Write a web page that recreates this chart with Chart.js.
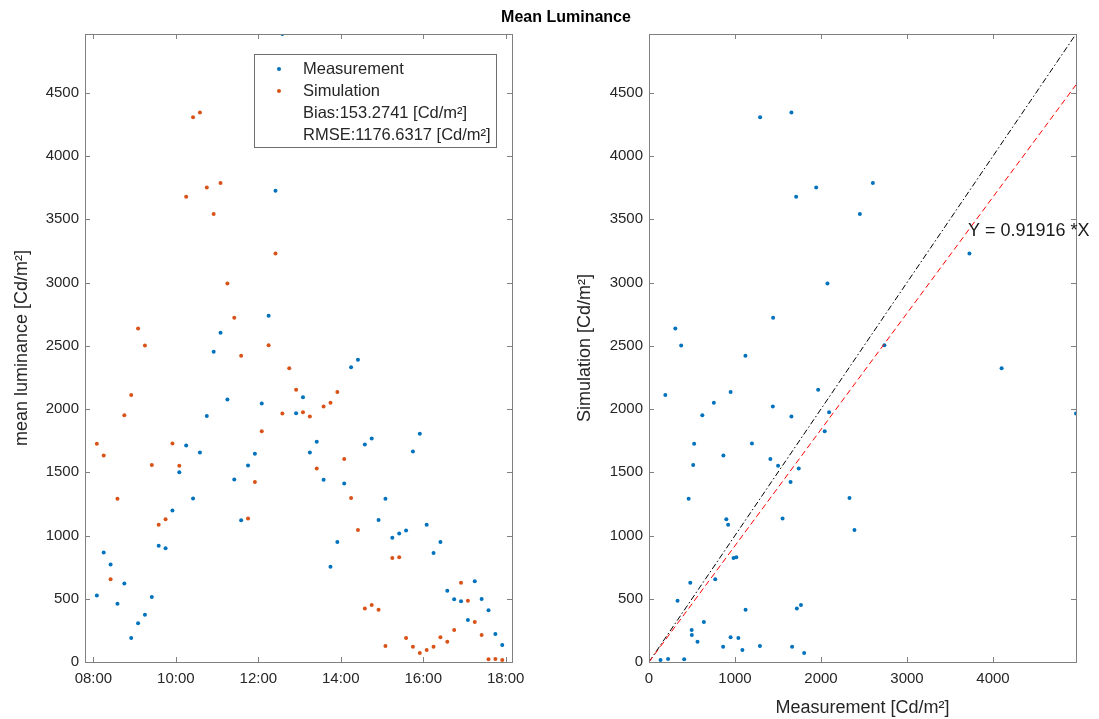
<!DOCTYPE html>
<html>
<head>
<meta charset="utf-8">
<title>Mean Luminance</title>
<script src="https://cdn.jsdelivr.net/npm/chart.js@4.4.0/dist/chart.umd.min.js"></script>
<style>
  body { margin: 0; background: #fff; }
  #wrap { position: relative; width: 1099px; height: 719px; }
  canvas { position: absolute; left: 0; top: 0; }
</style>
</head>
<body>
<div id="wrap">
  <canvas id="timeChart" width="1099" height="719"></canvas>
  <canvas id="scatterChart" width="1099" height="719"></canvas>
</div>
<script>
// sample times (every 10 min)
const times = ['08:05','08:15','08:25','08:35','08:45','08:55','09:05','09:15','09:25','09:35',
               '09:45','09:55','10:05','10:15','10:25','10:35','10:45','10:55','11:05','11:15',
               '11:25','11:35','11:45','11:55','12:05','12:15','12:25','12:35','12:45','12:55',
               '13:05','13:15','13:25','13:35','13:45','13:55','14:05','14:15','14:25','14:35',
               '14:45','14:55','15:05','15:15','15:25','15:35','15:45','15:55','16:05','16:15',
               '16:25','16:35','16:45','16:55','17:05','17:15','17:25','17:35','17:45','17:55'];

// mean luminance [Cd/m2]
const measurement = [525, 865, 770, 461, 620, 190, 306, 374, 514, 920,
                     899, 1197, 1501, 1711, 1292, 1656, 1944, 2452, 2603, 2075,
                     1443, 1121, 1553, 1646, 2043, 2737, 3726, 4965, 4100, 1967,
                     2094, 1656, 1741, 1440, 754, 949, 1411, 2331, 2389, 1719,
                     1767, 1123, 1290, 983, 1015, 1039, 1664, 1804, 1086, 862,
                     949, 564, 496, 480, 332, 638, 498, 409, 222, 134];
const simulation = [1725, 1632, 654, 1290, 1951, 2110, 2637, 2502, 1558, 1086,
                    1129, 1727, 1551, 3679, 4306, 4345, 3752, 3542, 3787, 2993,
                    2721, 2421, 1134, 1424, 1825, 2505, 3230, 1964, 2323, 2152,
                    1975, 1941, 1529, 2020, 2049, 2134, 1604, 1297, 1044, 422,
                    451, 414, 127, 823, 828, 190, 121, 71, 95, 121,
                    195, 161, 253, 627, 485, 316, 214, 21, 24, 16];

const hourTicks = [8, 10, 12, 14, 16, 18];
const lumTicks = [0, 500, 1000, 1500, 2000, 2500, 3000, 3500, 4000, 4500];
const measTicks = [0, 1000, 2000, 3000, 4000];
const lumMax = 4965;
const fitSlope = 0.91916;
const legendText = ['Measurement', 'Simulation', 'Bias:153.2741 [Cd/m\u00b2]', 'RMSE:1176.6317 [Cd/m\u00b2]'];

const W = 1099, H = 719;
const FONT = "'Liberation Sans', Arial, Helvetica, sans-serif";
const blue = '#0072BD', orange = '#D95319';
const axisColor = '#808080', textColor = '#262626';

const toHours = s => { const p = s.split(':'); return +p[0] + p[1] / 60; };
const setTicks = list => scale => { scale.ticks = list.map(v => ({value: v})); };

// MATLAB style box with inward ticks on all four sides
const boxTicks = {
  id: 'boxTicks',
  afterDraw(chart) {
    const {ctx, chartArea: a, scales: {x, y}} = chart;
    ctx.save();
    ctx.strokeStyle = axisColor;
    ctx.lineWidth = 1;
    ctx.strokeRect(Math.round(a.left) + 0.5, Math.round(a.top) + 0.5,
                   Math.round(a.right - a.left), Math.round(a.bottom - a.top));
    ctx.beginPath();
    x.ticks.forEach(t => {
      const px = Math.round(x.getPixelForValue(t.value)) + 0.5;
      ctx.moveTo(px, a.bottom); ctx.lineTo(px, a.bottom - 5);
      ctx.moveTo(px, a.top); ctx.lineTo(px, a.top + 5);
    });
    y.ticks.forEach(t => {
      const py = Math.round(y.getPixelForValue(t.value)) + 0.5;
      ctx.moveTo(a.left, py); ctx.lineTo(a.left + 5, py);
      ctx.moveTo(a.right, py); ctx.lineTo(a.right - 5, py);
    });
    ctx.stroke();
    ctx.restore();
  }
};

const legendBox = {
  id: 'legendBox',
  afterDatasetsDraw(chart) {
    const ctx = chart.ctx;
    ctx.save();
    ctx.fillStyle = '#fff';
    ctx.fillRect(254, 54, 242, 93);
    ctx.strokeStyle = '#6f6f6f';
    ctx.lineWidth = 1;
    ctx.strokeRect(254.5, 54.5, 242, 93);
    ctx.font = '16.5px ' + FONT;
    ctx.textBaseline = 'middle';
    ctx.fillStyle = textColor;
    legendText.forEach((txt, i) => ctx.fillText(txt, 303, 69 + i * 22));
    [blue, orange].forEach((c, i) => {
      ctx.fillStyle = c;
      ctx.beginPath();
      ctx.arc(279, 69 + i * 22, 2, 0, Math.PI * 2);
      ctx.fill();
    });
    ctx.restore();
  }
};

const figTitle = {
  id: 'figTitle',
  afterDraw(chart) {
    const ctx = chart.ctx;
    ctx.save();
    ctx.font = 'bold 16px ' + FONT;
    ctx.fillStyle = '#000';
    ctx.textAlign = 'center';
    ctx.textBaseline = 'middle';
    ctx.fillText('Mean Luminance', 566, 18);
    ctx.restore();
  }
};

const fitLabel = {
  id: 'fitLabel',
  afterDraw(chart) {
    const {ctx, scales: {x, y}} = chart;
    ctx.save();
    ctx.font = '18px ' + FONT;
    ctx.fillStyle = '#1a1a1a';
    ctx.textBaseline = 'middle';
    ctx.fillText('Y = ' + fitSlope + ' *X', x.getPixelForValue(3709), y.getPixelForValue(3410));
    ctx.restore();
  }
};

const tickFont = {family: FONT, size: 15};
const titleFont = {family: FONT, size: 18};

function axis(min, max, ticks, extra) {
  return Object.assign({
    type: 'linear', min: min, max: max,
    afterBuildTicks: setTicks(ticks),
    grid: {display: false, drawTicks: false},
    border: {display: false},
    ticks: {font: tickFont, color: textColor, autoSkip: false, maxRotation: 0, includeBounds: false,
            callback: v => String(v)}
  }, extra);
}

// ---------------- left: time series ----------------
const lumY = axis(0, lumMax, lumTicks, {
  afterFit: s => { s.width = 85; },
  title: {display: true, text: 'mean luminance [Cd/m\u00b2]', font: titleFont, color: textColor, padding: {top: 11, bottom: 0}}
});
lumY.ticks.padding = 6;

const timeX = axis(7.796, 18.153, hourTicks, {
  afterFit: s => { s.height = H - 662; }
});
timeX.ticks.padding = 8;
timeX.ticks.callback = v => (v < 10 ? '0' : '') + v + ':00';

new Chart(document.getElementById('timeChart'), {
  type: 'scatter',
  data: {
    datasets: [
      {label: 'Measurement', data: times.map((t, i) => ({x: toHours(t), y: measurement[i]})),
       backgroundColor: blue, borderWidth: 0, pointRadius: 2, order: 2},
      {label: 'Simulation', data: times.map((t, i) => ({x: toHours(t), y: simulation[i]})),
       backgroundColor: orange, borderWidth: 0, pointRadius: 2, order: 1}
    ]
  },
  options: {
    responsive: false,
    animation: false,
    layout: {padding: {left: 0, top: 34, right: W - 512, bottom: 0}},
    plugins: {legend: {display: false}, tooltip: {enabled: false}},
    scales: {x: timeX, y: lumY}
  },
  plugins: [legendBox, boxTicks]
});

// ---------------- right: simulation vs measurement ----------------
const simY = axis(0, lumMax, lumTicks, {
  afterFit: s => { s.width = 100; },
  title: {display: true, text: 'Simulation [Cd/m\u00b2]', font: titleFont, color: textColor, padding: {top: 25, bottom: 0}}
});
simY.ticks.padding = 6;

const measX = axis(0, lumMax, measTicks, {
  afterFit: s => { s.height = H - 662; },
  title: {display: true, text: 'Measurement [Cd/m\u00b2]', font: titleFont, color: textColor, padding: {top: 0, bottom: 0}}
});
measX.ticks.padding = 8;

new Chart(document.getElementById('scatterChart'), {
  type: 'scatter',
  data: {
    datasets: [
      {label: 'pairs', data: measurement.map((m, i) => ({x: m, y: simulation[i]})),
       backgroundColor: blue, borderWidth: 0, pointRadius: 2, order: 3},
      {label: 'Y = X', data: [{x: 0, y: 0}, {x: lumMax, y: lumMax}],
       showLine: true, borderColor: '#000', borderWidth: 1, borderDash: [6, 2.5, 1.5, 2.5], pointRadius: 0, order: 2},
      {label: 'fit', data: [{x: 0, y: 0}, {x: lumMax, y: fitSlope * lumMax}],
       showLine: true, borderColor: '#ff0000', borderWidth: 1, borderDash: [6, 3.5], pointRadius: 0, order: 1}
    ]
  },
  options: {
    responsive: false,
    animation: false,
    layout: {padding: {left: 549, top: 34, right: W - 1076, bottom: 0}},
    plugins: {legend: {display: false}, tooltip: {enabled: false}},
    scales: {x: measX, y: simY}
  },
  plugins: [boxTicks, fitLabel, figTitle]
});
</script>
</body>
</html>
